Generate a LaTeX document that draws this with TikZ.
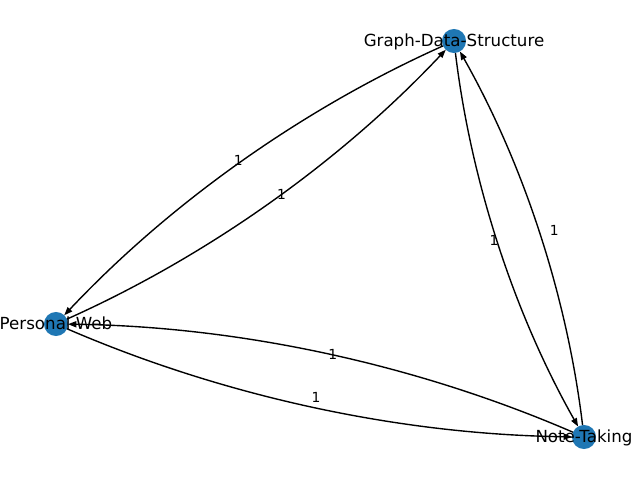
\documentclass[tikz,border=0pt]{standalone}
\usepackage{fontspec}
\setmainfont{DejaVu Sans}
\usetikzlibrary{calc,arrows.meta}
\definecolor{mplblue}{RGB}{31,119,180}
\tikzset{
  vtx/.style={circle,fill=mplblue,minimum size=17.32pt,inner sep=0pt,outer sep=0pt},
  vlabel/.style={inner sep=0pt,anchor=base,font=\fontsize{12}{14}\selectfont},
  elabel/.style={inner sep=0pt,font=\fontsize{10}{12}\selectfont},
  edge/.style={draw=black,line width=1pt,-{Triangle[length=6pt,width=4.4pt]}},
}
\newcommand{\arcedge}[2]{%
  \coordinate (c-#1-#2) at ($(#1)!0.5!(#2)!0.2!-90:(#2)$);
  \draw[edge] (#1) .. controls ($(#1)!0.6667!(c-#1-#2)$) and ($(#2)!0.6667!(c-#1-#2)$) .. (#2);
}
\begin{document}
\begin{tikzpicture}[x=0.72pt,y=-0.72pt]
\useasboundingbox (0,0) rectangle (640,480);
\node[vtx] (gds) at (454,41) {};
\node[vtx] (pw) at (56,324) {};
\node[vtx] (nt) at (584,437) {};
\arcedge{gds}{pw}
\arcedge{pw}{gds}
\arcedge{gds}{nt}
\arcedge{nt}{gds}
\arcedge{pw}{nt}
\arcedge{nt}{pw}
\node[elabel] (l1) at (238.3,160.5) {1};
\node[elabel] (l2) at (281.5,194.3) {1};
\node[elabel] (l3) at (494,240) {1};
\node[elabel] (l4) at (554.3,230.5) {1};
\node[elabel] (l5) at (332.7,354) {1};
\node[elabel] (l6) at (316,397.7) {1};
\node[vlabel] (tgds) at (454,46.8) {Graph-Data-Structure};
\node[vlabel] (tpw) at (56,329.8) {Personal-Web};
\node[vlabel] (tnt) at (584,442.8) {Note-Taking};
\end{tikzpicture}
\end{document}
